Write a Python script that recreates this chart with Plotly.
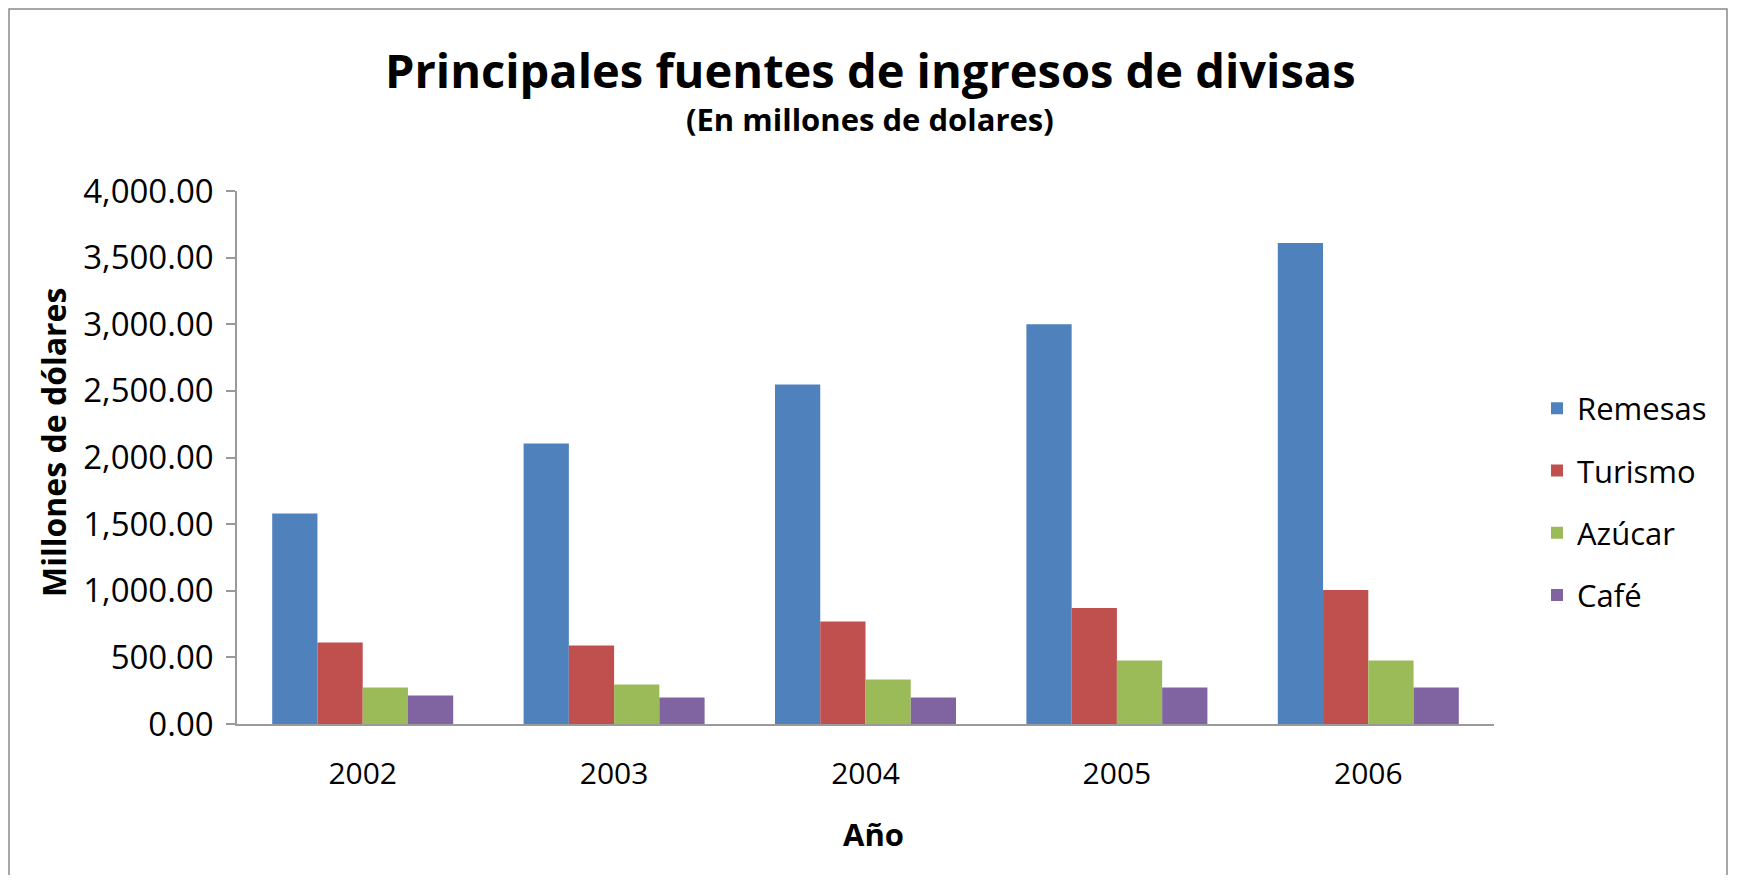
import plotly.graph_objects as go

years = ["2002", "2003", "2004", "2005", "2006"]
remesas = [1580, 2106, 2548, 3000, 3610]
turismo = [611, 589, 770, 870, 1005]
azucar = [274, 296, 334, 476, 476]
cafe = [214, 199, 199, 274, 274]

series_names = ["Remesas", "Turismo", "Azúcar", "Café"]
series_values = [remesas, turismo, azucar, cafe]
series_colors = ["#4F81BD", "#C0504D", "#9BBB59", "#8064A2"]

# target screenshot geometry (page body has an 8px default margin)
W, H = 1739, 883
OFF = 8
L, R, T, B = 237, 1494, 191, 724
pw, ph = R - L, B - T

def px(x):
    return (x - L) / pw

def py(y):
    return (B - y) / ph

FONT = "Open Sans"

fig = go.Figure()
for name, vals, col in zip(series_names, series_values, series_colors):
    fig.add_trace(go.Bar(x=years, y=vals, name=name, marker=dict(color=col, line=dict(width=0)),
                         legendgroup=name))

fig.update_layout(
    width=W - 2 * OFF, height=H - 2 * OFF,
    margin=dict(l=L - OFF, r=W - OFF - R, t=T - OFF, b=H - OFF - B, autoexpand=False),
    paper_bgcolor="white", plot_bgcolor="white",
    barmode="group", bargap=0.28, bargroupgap=0,
    font=dict(family=FONT, color="black"),
    showlegend=True,
    legend=dict(x=px(1537), y=py(502), xanchor="left", yanchor="middle",
                font=dict(size=31, family=FONT), tracegroupgap=19,
                itemwidth=30, bgcolor="rgba(0,0,0,0)"),
)

fig.update_yaxes(range=[0, 4000], tickvals=[0, 500, 1000, 1500, 2000, 2500, 3000, 3500, 4000],
                 tickformat=",.2f", showgrid=False, zeroline=False,
                 showline=True, linecolor="#9a9a9a", linewidth=1.5,
                 ticks="outside", ticklen=9, tickcolor="#9a9a9a", tickwidth=1.5,
                 tickfont=dict(size=33, family=FONT, color="black"), ticklabelstandoff=6)
fig.update_xaxes(showgrid=False, showline=True, linecolor="#9a9a9a", linewidth=2,
                 ticks="", tickfont=dict(size=30, family=FONT, color="black"),
                 ticklabelstandoff=22)

annotations = [
    dict(text="<b>Principales fuentes de ingresos de divisas</b>", x=px(870), y=py(70),
         font=dict(size=47, family=FONT)),
    dict(text="<b>(En millones de dolares)</b>", x=px(870), y=py(119),
         font=dict(size=31, family=FONT)),
    dict(text="<b>Millones de dólares</b>", x=px(53), y=py(442), textangle=-90,
         font=dict(size=32, family=FONT)),
    dict(text="<b>Año</b>", x=px(873), y=py(834), font=dict(size=31, family=FONT)),
]
for a in annotations:
    a.update(xref="paper", yref="paper", showarrow=False, xanchor="center", yanchor="middle")
fig.update_layout(annotations=annotations)

fig.add_shape(type="rect", xref="paper", yref="paper",
              x0=px(9), x1=px(1727), y0=py(900), y1=py(9),
              line=dict(color="#8a8a8a", width=1.5), fillcolor="rgba(0,0,0,0)", layer="below")

fig.write_html("out.html")
